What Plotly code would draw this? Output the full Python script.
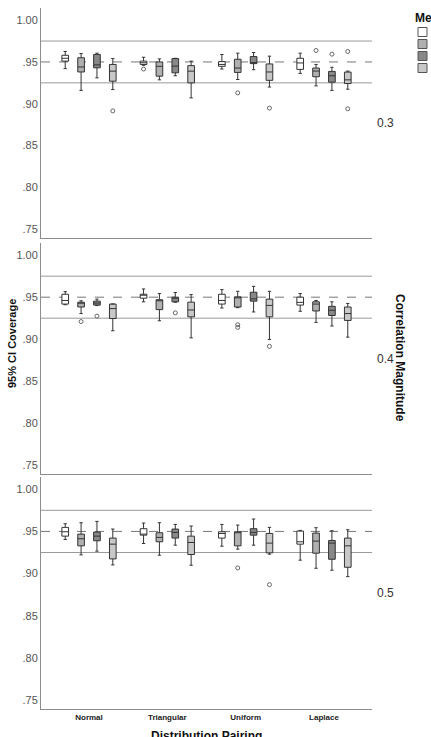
import plotly.graph_objects as go

categories = ["Normal", "Triangular", "Uniform", "Laplace"]
methods = ["Fisher z", "Bootstrap", "Pearson", "Kendall"]
correlations = ["0.3", "0.4", "0.5"]
y_tickvals = [0.75, 0.80, 0.85, 0.90, 0.95, 1.00]
y_ticktext = [".75", ".80", ".85", ".90", ".95", "1.00"]
nominal = 0.95
bounds = [0.925, 0.975]

# rows = methods, columns = categories
lf_03 = [[.942, .946, .9415, .9363], [.916, .9286, .929, .9214], [.931, .9335, .9407, .916], [.917, .907, .920, .9174]]
q1_03 = [[.951, .947, .9448, .9411], [.938, .933, .9375, .9323], [.943, .937, .948, .9258], [.927, .925, .928, .9242]]
med_03 = [[.9544, .949, .947, .9488], [.944, .9448, .9427, .9391], [.9465, .945, .9488, .9335], [.939, .939, .938, .9286]]
q3_03 = [[.958, .951, .9504, .9544], [.955, .950, .9532, .9427], [.959, .954, .9564, .9387], [.947, .9456, .9476, .9379]]
uf_03 = [[.9625, .9556, .9589, .9605], [.960, .9536, .9605, .947], [.9605, .9544, .9613, .9436], [.954, .951, .9569, .9391]]
out_03 = [[[], [.9415], [], []], [[], [], [.913], [.9637]], [[], [], [], [.9593]], [[.8915], [], [.8948], [.9625, .894]]]

lf_04 = [[.941, .9445, .9371, .9332], [.9305, .9219, .9375, .92], [.940, .944, .9324, .9157], [.910, .9016, .8997, .9024]]
q1_04 = [[.9418, .9488, .9418, .9406], [.9383, .9352, .9383, .9336], [.9406, .9445, .9453, .9282], [.9246, .9266, .9266, .9223]]
med_04 = [[.9461, .9527, .9461, .9438], [.943, .9461, .9492, .9418], [.943, .9488, .948, .9344], [.9364, .9348, .9402, .9305]]
q3_04 = [[.9535, .9535, .9535, .95], [.944, .9469, .9504, .9445], [.9453, .95, .9559, .9391], [.9418, .9441, .9477, .9383]]
uf_04 = [[.9566, .9598, .959, .9543], [.9457, .9543, .957, .9461], [.9477, .9555, .9629, .9445], [.942, .9531, .957, .9426]]
out_04 = [[[], [], [], []], [[.921], [], [.9172, .914], []], [[.9274], [.9313], [], []], [[], [], [.8915], []]]

lf_05 = [[.9405, .9357, .9325, .9159], [.9222, .9218, .929, .9063], [.9266, .9337, .9337, .904], [.9103, .9099, .923, .8964]]
q1_05 = [[.9444, .9456, .9421, .9349], [.9329, .9377, .9329, .9242], [.9389, .9421, .9456, .917], [.9174, .9226, .9246, .9075]]
med_05 = [[.9496, .9468, .9476, .9377], [.9413, .9429, .9488, .9385], [.9444, .9488, .9488, .9361], [.9349, .9369, .9361, .9329]]
q3_05 = [[.9548, .9532, .9496, .9504], [.9468, .9484, .9496, .948], [.9492, .9528, .9532, .9393], [.9421, .9444, .9476, .9421]]
uf_05 = [[.9591, .9599, .9583, .9512], [.9603, .9603, .9575, .9544], [.9619, .9583, .9647, .9508], [.9528, .9564, .9548, .952]]
out_05 = [[[], [], [], []], [[], [], [.9067], []], [[], [], [], []], [[], [], [.8869], []]]

panels = [
    (lf_03, q1_03, med_03, q3_03, uf_03, out_03),
    (lf_04, q1_04, med_04, q3_04, uf_04, out_04),
    (lf_05, q1_05, med_05, q3_05, uf_05, out_05),
]

fills = ["#ffffff", "#b0b0b0", "#888888", "#c8c8c8"]
FONT = "Liberation Sans, Arial, sans-serif"
W, H = 431, 737
ML, MR, MT, MB = 41, 59, 8, 28
PW, PH = W - ML - MR, H - MT - MB


def px_x(x):
    return (x - ML) / PW


def px_y(y):
    return (H - MB - y) / PH


domains = [[px_y(238), 1.0], [px_y(474), px_y(243)], [0.0, px_y(477)]]
suffixes = ["", "2", "3"]

fig = go.Figure()
for p, (lf, q1, med, q3, uf, out) in enumerate(panels):
    s = suffixes[p]
    for m in range(4):
        samples = [v if len(v) else [None] for v in out[m]]
        fig.add_trace(go.Box(
            x=categories, y=samples, q1=q1[m], median=med[m], q3=q3[m],
            lowerfence=lf[m], upperfence=uf[m], orientation="v",
            boxpoints="all", jitter=0, pointpos=0, name=methods[m],
            alignmentgroup=f"panel{p}", offsetgroup=f"m{m}",
            fillcolor=fills[m], line=dict(color="#333333", width=1),
            whiskerwidth=0.5,
            marker=dict(symbol="circle-open", size=4, color="#666666", line=dict(width=1)),
            showlegend=False, xaxis="x" + s, yaxis="y" + s,
        ))

shapes = []
annotations = []
for p in range(3):
    s = suffixes[p]
    for b in bounds:
        shapes.append(dict(type="line", xref=f"x{s} domain", yref=f"y{s}", x0=0, x1=1, y0=b, y1=b,
                           line=dict(color="#9a9a9a", width=1), layer="below"))
    shapes.append(dict(type="line", xref=f"x{s} domain", yref=f"y{s}", x0=0, x1=1, y0=nominal, y1=nominal,
                       line=dict(color="#777777", width=1, dash="dash"), layer="below"))
    annotations.append(dict(text=correlations[p], xref="paper", yref="paper", x=px_x(375),
                            y=(domains[p][0] + domains[p][1]) / 2, xanchor="left", yanchor="middle",
                            showarrow=False, font=dict(family=FONT, size=12, color="#333333")))

layout = dict(
    width=W, height=H, margin=dict(l=ML, r=MR, t=MT, b=MB, autoexpand=False),
    paper_bgcolor="white", plot_bgcolor="white",
    boxmode="group", boxgap=0.19, boxgroupgap=0.58,
    showlegend=False, font=dict(family=FONT),
)
for p in range(3):
    s = suffixes[p]
    layout["xaxis" + s] = dict(
        domain=[0, 1], anchor="y" + s, type="category", categoryorder="array", categoryarray=categories,
        range=[-0.613, 3.613], showline=True, linecolor="#8c8c8c", linewidth=1, ticks="",
        showgrid=False, zeroline=False, showticklabels=(p == 2),
        tickfont=dict(family=FONT, size=8, color="#222222", weight="bold"),
    )
    layout["yaxis" + s] = dict(
        domain=domains[p], anchor="x" + s, range=[0.7395, 1.0145], tickvals=y_tickvals, ticktext=y_ticktext,
        showline=True, linecolor="#8c8c8c", linewidth=1, ticks="", showgrid=False, zeroline=False,
        tickfont=dict(family=FONT, size=11, color="#555555"),
    )

# titles
annotations.append(dict(text="<b>95% CI Coverage</b>", xref="paper", yref="paper", x=px_x(12), y=px_y(344),
                        textangle=-90, showarrow=False, xanchor="center", yanchor="middle",
                        font=dict(family=FONT, size=11, color="#111111")))
annotations.append(dict(text="<b>Correlation Magnitude</b>", xref="paper", yref="paper", x=px_x(400), y=px_y(358),
                        textangle=90, showarrow=False, xanchor="center", yanchor="middle",
                        font=dict(family=FONT, size=12, color="#111111")))
annotations.append(dict(text="<b>Distribution Pairing</b>", xref="paper", yref="paper", x=px_x(206), y=px_y(727),
                        showarrow=False, xanchor="center", yanchor="top",
                        font=dict(family=FONT, size=12, color="#111111")))

# manual legend (partly outside the visible page, as in the reference)
annotations.append(dict(text="<b>Method</b>", xref="paper", yref="paper", x=px_x(413), y=px_y(18),
                        showarrow=False, xanchor="left", yanchor="middle",
                        font=dict(family=FONT, size=12, color="#111111")))
for m in range(4):
    cy = 32 + 12 * m
    shapes.append(dict(type="rect", xref="paper", yref="paper", x0=px_x(418), x1=px_x(427),
                       y0=px_y(cy - 4.5), y1=px_y(cy + 4.5), fillcolor=fills[m],
                       line=dict(color="#555555", width=1)))
    annotations.append(dict(text=methods[m], xref="paper", yref="paper", x=px_x(429), y=px_y(cy),
                            showarrow=False, xanchor="left", yanchor="middle",
                            font=dict(family=FONT, size=11, color="#222222")))

layout["shapes"] = shapes
layout["annotations"] = annotations
fig.update_layout(**layout)
fig.write_html("out.html")
